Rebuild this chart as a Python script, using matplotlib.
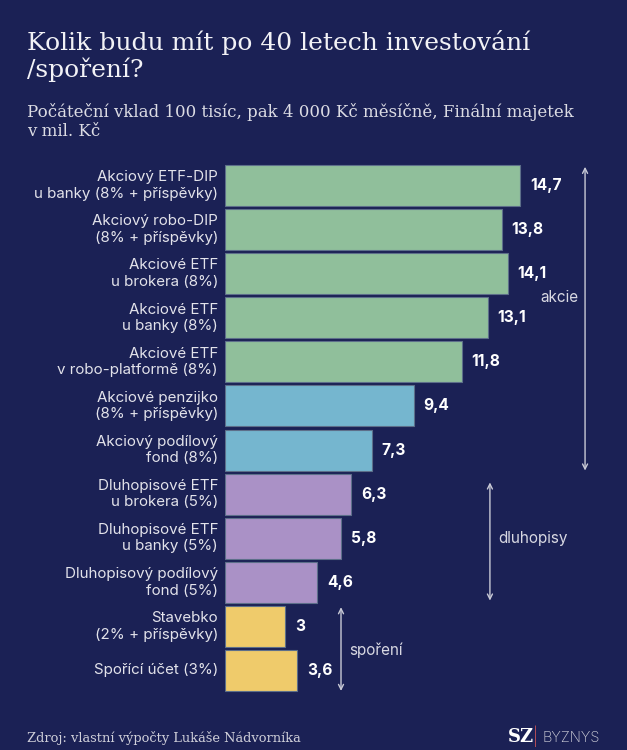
import matplotlib
matplotlib.use("Agg")
import matplotlib.pyplot as plt

labels = [
    "Akciový ETF-DIP\nu banky (8% + příspěvky)",
    "Akciový robo-DIP\n(8% + příspěvky)",
    "Akciové ETF\nu brokera (8%)",
    "Akciové ETF\nu banky (8%)",
    "Akciové ETF\nv robo-platformě (8%)",
    "Akciové penzijko\n(8% + příspěvky)",
    "Akciový podílový\nfond (8%)",
    "Dluhopisové ETF\nu brokera (5%)",
    "Dluhopisové ETF\nu banky (5%)",
    "Dluhopisový podílový\nfond (5%)",
    "Stavebko\n(2% + příspěvky)",
    "Spořící účet (3%)",
]
values = [14.7, 13.8, 14.1, 13.1, 11.8, 9.4, 7.3, 6.3, 5.8, 4.6, 3.0, 3.6]
value_labels = ["14,7", "13,8", "14,1", "13,1", "11,8", "9,4", "7,3", "6,3", "5,8", "4,6", "3", "3,6"]
groups = ["g", "g", "g", "g", "g", "b", "b", "p", "p", "p", "y", "y"]
group_colors = {"g": "#90bf9b", "b": "#75b6cf", "p": "#aa91c6", "y": "#efcb6b"}

brackets = [  # (name, first index, last index)
    ("akcie", 0, 6),
    ("dluhopisy", 7, 9),
    ("spoření", 10, 11),
]

BG = "#1b2155"
W, H = 627, 750
fig = plt.figure(figsize=(W / 100, H / 100), dpi=100)
fig.patch.set_facecolor(BG)

left_px, top_px, bot_px = 225, 163.5, 692.5
ax = fig.add_axes([left_px / W, 1 - bot_px / H, (W - left_px) / W, (bot_px - top_px) / H])
ax.set_facecolor(BG)
ax.set_xlim(0, (W - left_px) / 20.07)
ax.set_ylim(len(values) - 0.5, -0.5)
ax.axis("off")

sans = "Inter"
ys = list(range(len(values)))
bh = 0.93
ax.barh(ys, values, height=bh, color=[group_colors[g] for g in groups],
        edgecolor="#5d6f8a", linewidth=0.8)

for y, v, vl, lab in zip(ys, values, value_labels, labels):
    ax.annotate(vl, (v, y), xytext=(7, 0), textcoords="offset points",
                ha="left", va="center", color="white", fontsize=11.2,
                fontweight="bold", family=sans)
    ax.annotate(lab, (0, y), xytext=(-5, 0), textcoords="offset points",
                ha="right", va="center", color="#e2e2ea", fontsize=10.9,
                family=sans, linespacing=1.22)

arrow_x = {"akcie": 17.94, "dluhopisy": 13.2, "spoření": 5.78}
arrow_inset = {"akcie": (0.04, 0.0), "dluhopisy": (0.2, -0.05), "spoření": (0.03, 0.0)}
label_y = {"akcie": 2.55, "dluhopisy": 8.0, "spoření": 10.55}
for name, i0, i1 in brackets:
    x = arrow_x[name]
    t0, t1 = arrow_inset[name]
    ya = i0 - bh / 2 + t0
    yb = i1 + bh / 2 + t1
    ax.annotate("", xy=(x, ya), xytext=(x, yb),
                arrowprops=dict(arrowstyle="<->", color="#c9cad6", lw=1.0,
                                shrinkA=0, shrinkB=0, mutation_scale=9))
    if name == "akcie":
        ax.text(x - 0.35, label_y[name], name, ha="right", va="center", color="#d8d8e2",
                fontsize=11, family=sans)
    else:
        ax.text(x + 0.4, label_y[name], name, ha="left", va="center", color="#d8d8e2",
                fontsize=11, family=sans)

fig.text(27 / W, 1 - 30 / H, "Kolik budu mít po 40 letech investování\n/spoření?",
         ha="left", va="top", color="#f2f2f6", fontsize=18, family="DejaVu Serif",
         linespacing=1.12)
fig.text(27 / W, 1 - 103 / H, "Počáteční vklad 100 tisíc, pak 4 000 Kč měsíčně, Finální majetek\nv mil. Kč",
         ha="left", va="top", color="#dcdce4", fontsize=12, family="DejaVu Serif",
         linespacing=1.15)
fig.text(27 / W, 1 - 742 / H, "Zdroj: vlastní výpočty Lukáše Nádvorníka",
         ha="left", va="baseline", color="#d0d0da", fontsize=9.4, family="DejaVu Serif")
fig.text(508 / W, 1 - 742 / H, "SZ", ha="left", va="baseline", color="white",
         fontsize=13, family="DejaVu Serif", fontweight="bold")
fig.text(533 / W, 1 - 743 / H, "|", ha="left", va="baseline", color="#e05a5a",
         fontsize=13, family=sans, fontweight="light")
fig.text(542 / W, 1 - 742 / H, "BYZNYS", ha="left", va="baseline", color="#d0d0da",
         fontsize=10.5, family=sans, fontweight="light")

fig.savefig("out.png", dpi=100, facecolor=BG)
